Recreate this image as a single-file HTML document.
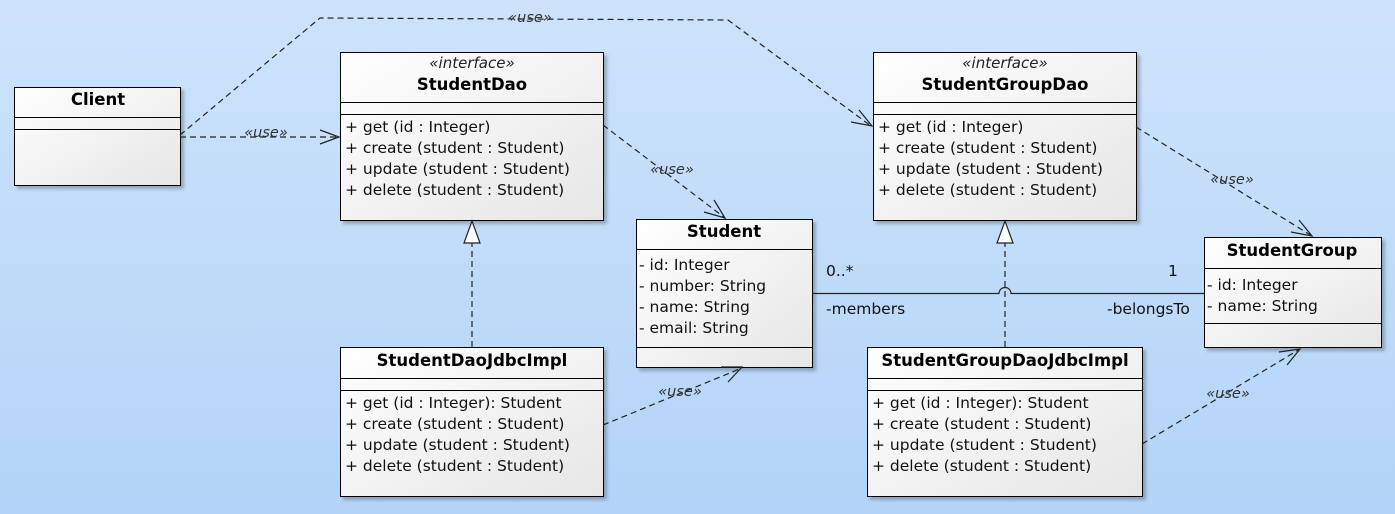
<!DOCTYPE html>
<html><head><meta charset="utf-8"><style>
html,body{margin:0;padding:0;}
body{width:1395px;height:514px;overflow:hidden;background:linear-gradient(#cde3fb,#b3d4f8);}
svg{display:block;font-family:"DejaVu Sans","Liberation Sans",sans-serif;}
</style></head><body>
<svg width="1395" height="514" viewBox="0 0 1395 514">
<defs>
<linearGradient id="g" x1="0" y1="0" x2="1" y2="1"><stop offset="0" stop-color="#ffffff"/><stop offset="1" stop-color="#e6e6e6"/></linearGradient>
<filter id="s" x="-5%" y="-5%" width="115%" height="115%"><feDropShadow dx="3" dy="3" stdDeviation="1.5" flood-color="#000" flood-opacity="0.25"/></filter>
</defs>
<g fill="url(#g)" stroke="#000" stroke-width="1" filter="url(#s)">
<rect x="14.5" y="87.5" width="166" height="98"/>
<rect x="340.5" y="52.5" width="263" height="168"/>
<rect x="873.5" y="52.5" width="263" height="168"/>
<rect x="636.5" y="219.5" width="176" height="148"/>
<rect x="1204.5" y="237.5" width="177" height="110"/>
<rect x="340.5" y="347.5" width="263" height="149"/>
<rect x="867.5" y="347.5" width="275" height="149"/>
</g>
<g stroke="#000" stroke-width="1">
<line x1="14" y1="117.5" x2="180" y2="117.5"/><line x1="14" y1="129.5" x2="180" y2="129.5"/>
<line x1="340" y1="102.5" x2="603" y2="102.5"/><line x1="340" y1="114.5" x2="603" y2="114.5"/>
<line x1="873" y1="102.5" x2="1136" y2="102.5"/><line x1="873" y1="114.5" x2="1136" y2="114.5"/>
<line x1="636" y1="249.5" x2="812" y2="249.5"/><line x1="636" y1="347.5" x2="812" y2="347.5"/>
<line x1="1204" y1="268.5" x2="1381" y2="268.5"/><line x1="1204" y1="323.5" x2="1381" y2="323.5"/>
<line x1="340" y1="378.5" x2="603" y2="378.5"/><line x1="340" y1="390.5" x2="603" y2="390.5"/>
<line x1="867" y1="378.5" x2="1142" y2="378.5"/><line x1="867" y1="390.5" x2="1142" y2="390.5"/>
</g>
<g font-size="16.5" font-weight="bold" text-anchor="middle" fill="#000">
<text x="98" y="105">Client</text>
<text x="472" y="90">StudentDao</text>
<text x="1005" y="90">StudentGroupDao</text>
<text x="724" y="237">Student</text>
<text x="1292" y="256">StudentGroup</text>
<text x="472" y="366">StudentDaoJdbcImpl</text>
<text x="1005" y="366">StudentGroupDaoJdbcImpl</text>
</g>
<g font-size="15" font-style="italic" text-anchor="middle" fill="#222">
<text x="472" y="68">«interface»</text>
<text x="1005" y="68">«interface»</text>
</g>
<g font-size="15.5" fill="#111">
<text x="345" y="132">+ get (id : Integer)</text>
<text x="345" y="153">+ create (student : Student)</text>
<text x="345" y="174">+ update (student : Student)</text>
<text x="345" y="195">+ delete (student : Student)</text>
<text x="878" y="132">+ get (id : Integer)</text>
<text x="878" y="153">+ create (student : Student)</text>
<text x="878" y="174">+ update (student : Student)</text>
<text x="878" y="195">+ delete (student : Student)</text>
<text x="345" y="408">+ get (id : Integer): Student</text>
<text x="345" y="429">+ create (student : Student)</text>
<text x="345" y="450">+ update (student : Student)</text>
<text x="345" y="471">+ delete (student : Student)</text>
<text x="872" y="408">+ get (id : Integer): Student</text>
<text x="872" y="429">+ create (student : Student)</text>
<text x="872" y="450">+ update (student : Student)</text>
<text x="872" y="471">+ delete (student : Student)</text>
<text x="639" y="270">- id: Integer</text>
<text x="639" y="291">- number: String</text>
<text x="639" y="312">- name: String</text>
<text x="639" y="333">- email: String</text>
<text x="1207" y="290">- id: Integer</text>
<text x="1207" y="311">- name: String</text>
<text x="826" y="276">0..*</text>
<text x="1168" y="276">1</text>
<text x="826" y="314">-members</text>
<text x="1107" y="314">-belongsTo</text>
</g>
<g fill="none" stroke="#222" stroke-width="1.2" stroke-dasharray="6,4">
<path d="M180 137 L338 137"/>
<path d="M180 135 L320 18 L728 20 L871 126"/>
<path d="M603 125 L725 218"/>
<path d="M1136 127 L1312 236"/>
<path d="M603 425 L742 368"/>
<path d="M1142 444 L1300 349"/>
<path d="M472 347 L472 243"/>
<path d="M1005 347 L1005 243"/>
</g>
<g fill="none" stroke="#222" stroke-width="1.2">
<path d="M320 130 L339 137 L320 144"/>
<path d="M851 122 L872 126 L859 110"/>
<path d="M704 212 L725 218 L714 200"/>
<path d="M1291 232 L1312 236 L1299 220"/>
<path d="M721 367 L742 367 L728 382"/>
<path d="M1279 352 L1300 349 L1287 365"/>
</g>
<g fill="#fff" stroke="#222" stroke-width="1.2">
<path d="M472 221 L464 243 L480 243 Z"/>
<path d="M1005 221 L997 243 L1013 243 Z"/>
</g>
<path d="M812 293.5 L999 293.5 A6 6 0 0 1 1011 293.5 L1204 293.5" fill="none" stroke="#222" stroke-width="1.2"/>
<g font-size="14.5" font-style="italic" fill="#333" text-anchor="middle">
<text x="266" y="137">«use»</text>
<text x="530" y="22">«use»</text>
<text x="672" y="174">«use»</text>
<text x="1232" y="184">«use»</text>
<text x="680" y="396">«use»</text>
<text x="1228" y="398">«use»</text>
</g>
</svg>
</body></html>
